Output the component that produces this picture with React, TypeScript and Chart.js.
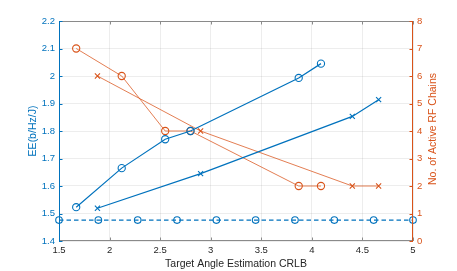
import React, { useEffect, useRef } from "react";
import { Chart, registerables } from "chart.js";

Chart.register(...registerables);

const BLUE = "#0072BD";
const ORANGE = "#D95319";
const FONT = "'Liberation Sans', Arial, Helvetica, sans-serif";

// CRLB values (x) for the two scheme families
const crlbCircle = [1.67, 2.12, 2.55, 2.8, 3.87, 4.09];
const crlbCross = [1.88, 2.9, 4.4, 4.66];
const crlbBaseline = [1.5, 1.889, 2.278, 2.667, 3.056, 3.444, 3.833, 4.222, 4.611, 5.0];

// Energy efficiency (left axis)
const eeCircle = [1.523, 1.665, 1.77, 1.8, 1.993, 2.045];
const eeCross = [1.519, 1.645, 1.853, 1.914];
const eeBaseline = [1.476, 1.476, 1.476, 1.476, 1.476, 1.476, 1.476, 1.476, 1.476, 1.476];

// Number of active RF chains (right axis)
const rfCircle = [7, 6, 4, 4, 2, 2];
const rfCross = [6, 4, 2, 2];

const xTitle = "Target Angle Estimation CRLB";
const yLeftTitle = "EE(b/Hz/J)";
const yRightTitle = "No. of Active RF Chains";

const pts = (xs: number[], ys: number[]) => xs.map((x, i) => ({ x, y: ys[i] }));
const fmt = (v: number | string) => String(Number(Number(v).toFixed(2)));

const axesPlugin = {
  id: "matlabAxes",
  afterDraw(chart: any) {
    const { ctx, chartArea } = chart;
    const { left, right, top, bottom } = chartArea;
    const xs = chart.scales.x;
    const yl = chart.scales.y;
    const yr = chart.scales.y1;
    const tl = 3.5;
    ctx.save();
    ctx.lineWidth = 1;
    // top & bottom lines
    ctx.strokeStyle = "#8a8a8a";
    ctx.beginPath();
    ctx.moveTo(left, top + 0.5);
    ctx.lineTo(right, top + 0.5);
    ctx.moveTo(left, bottom - 0.5);
    ctx.lineTo(right, bottom - 0.5);
    xs.ticks.forEach((t: any) => {
      const px = Math.round(xs.getPixelForValue(t.value)) + 0.5;
      ctx.moveTo(px, bottom);
      ctx.lineTo(px, bottom - tl);
      ctx.moveTo(px, top);
      ctx.lineTo(px, top + tl);
    });
    ctx.stroke();
    // left axis
    ctx.strokeStyle = BLUE;
    ctx.beginPath();
    ctx.moveTo(left + 0.5, top);
    ctx.lineTo(left + 0.5, bottom);
    yl.ticks.forEach((t: any) => {
      const py = Math.round(yl.getPixelForValue(t.value)) + 0.5;
      ctx.moveTo(left, py);
      ctx.lineTo(left + tl, py);
    });
    ctx.stroke();
    // right axis
    ctx.strokeStyle = ORANGE;
    ctx.beginPath();
    ctx.moveTo(right - 0.5, top);
    ctx.lineTo(right - 0.5, bottom);
    yr.ticks.forEach((t: any) => {
      const py = Math.round(yr.getPixelForValue(t.value)) + 0.5;
      ctx.moveTo(right, py);
      ctx.lineTo(right - tl, py);
    });
    ctx.stroke();

    // titles
    ctx.font = `10.5px ${FONT}`;
    ctx.textAlign = "center";
    ctx.textBaseline = "middle";
    ctx.fillStyle = "#262626";
    ctx.fillText(xTitle, (left + right) / 2, 264);

    ctx.save();
    ctx.translate(33.5, (top + bottom) / 2);
    ctx.rotate(-Math.PI / 2);
    ctx.fillStyle = BLUE;
    ctx.fillText(yLeftTitle, 0, 0);
    ctx.restore();

    ctx.save();
    ctx.translate(433.5, (top + bottom) / 2 - 2);
    ctx.rotate(-Math.PI / 2);
    ctx.fillStyle = ORANGE;
    ctx.fillText(yRightTitle, 0, 0);
    ctx.restore();

    ctx.restore();
  },
};

export default function App() {
  const ref = useRef<HTMLCanvasElement | null>(null);

  useEffect(() => {
    if (!ref.current) return;
    const tickFont = { family: FONT, size: 9.5 };
    const gridColor = "rgba(0,0,0,0.07)";
    const chart = new Chart(ref.current, {
      type: "scatter",
      data: {
        datasets: [
          {
            label: "baseline",
            data: pts(crlbBaseline, eeBaseline),
            yAxisID: "y",
            showLine: true,
            borderColor: BLUE,
            borderWidth: 1.2,
            borderDash: [4.5, 3],
            pointStyle: "circle",
            pointRadius: 3.3,
            pointBorderColor: BLUE,
            pointBackgroundColor: "rgba(0,0,0,0)",
            pointBorderWidth: 1.1,
            clip: false as any,
          },
          {
            label: "EE circle",
            data: pts(crlbCircle, eeCircle),
            yAxisID: "y",
            showLine: true,
            borderColor: BLUE,
            borderWidth: 1.2,
            pointStyle: "circle",
            pointRadius: 3.6,
            pointBorderColor: BLUE,
            pointBackgroundColor: "rgba(0,0,0,0)",
            pointBorderWidth: 1.1,
          },
          {
            label: "EE cross",
            data: pts(crlbCross, eeCross),
            yAxisID: "y",
            showLine: true,
            borderColor: BLUE,
            borderWidth: 1.2,
            pointStyle: "crossRot",
            pointRadius: 3.6,
            pointBorderColor: BLUE,
            pointBorderWidth: 1.1,
          },
          {
            label: "RF circle",
            data: pts(crlbCircle, rfCircle),
            yAxisID: "y1",
            showLine: true,
            borderColor: "rgba(217,83,25,0.75)",
            borderWidth: 1,
            pointStyle: "circle",
            pointRadius: 3.6,
            pointBorderColor: ORANGE,
            pointBackgroundColor: "rgba(0,0,0,0)",
            pointBorderWidth: 1.1,
          },
          {
            label: "RF cross",
            data: pts(crlbCross, rfCross),
            yAxisID: "y1",
            showLine: true,
            borderColor: "rgba(217,83,25,0.75)",
            borderWidth: 1,
            pointStyle: "crossRot",
            pointRadius: 3.6,
            pointBorderColor: ORANGE,
            pointBorderWidth: 1.1,
          },
        ],
      },
      options: {
        responsive: false,
        animation: false,
        devicePixelRatio: 1,
        layout: { padding: { top: 21, left: 0, right: 0, bottom: 0 } },
        plugins: {
          legend: { display: false },
          tooltip: { enabled: false },
        },
        scales: {
          x: {
            type: "linear",
            min: 1.5,
            max: 5,
            border: { display: false },
            grid: { color: gridColor, drawTicks: false },
            ticks: {
              stepSize: 0.5,
              padding: 4,
              color: "#262626",
              font: tickFont,
              maxRotation: 0,
              callback: (v: any) => fmt(v),
            },
            afterFit: (s: any) => {
              s.height = 30;
            },
          },
          y: {
            type: "linear",
            position: "left",
            min: 1.4,
            max: 2.2,
            border: { display: false },
            grid: { color: gridColor, drawTicks: false },
            ticks: {
              stepSize: 0.1,
              padding: 4,
              color: BLUE,
              font: tickFont,
              callback: (v: any) => fmt(v),
            },
            afterFit: (s: any) => {
              s.width = 59;
            },
          },
          y1: {
            type: "linear",
            position: "right",
            min: 0,
            max: 8,
            border: { display: false },
            grid: { display: false, drawTicks: false },
            ticks: {
              stepSize: 1,
              padding: 4,
              color: ORANGE,
              font: tickFont,
              callback: (v: any) => fmt(v),
            },
            afterFit: (s: any) => {
              s.width = 44;
            },
          },
        },
      } as any,
      plugins: [axesPlugin],
    });
    return () => chart.destroy();
  }, []);

  return (
    <div style={{ position: "absolute", left: 0, top: 0, width: 457, height: 271, background: "#fff" }}>
      <canvas ref={ref} width={457} height={271} style={{ display: "block" }} />
    </div>
  );
}
